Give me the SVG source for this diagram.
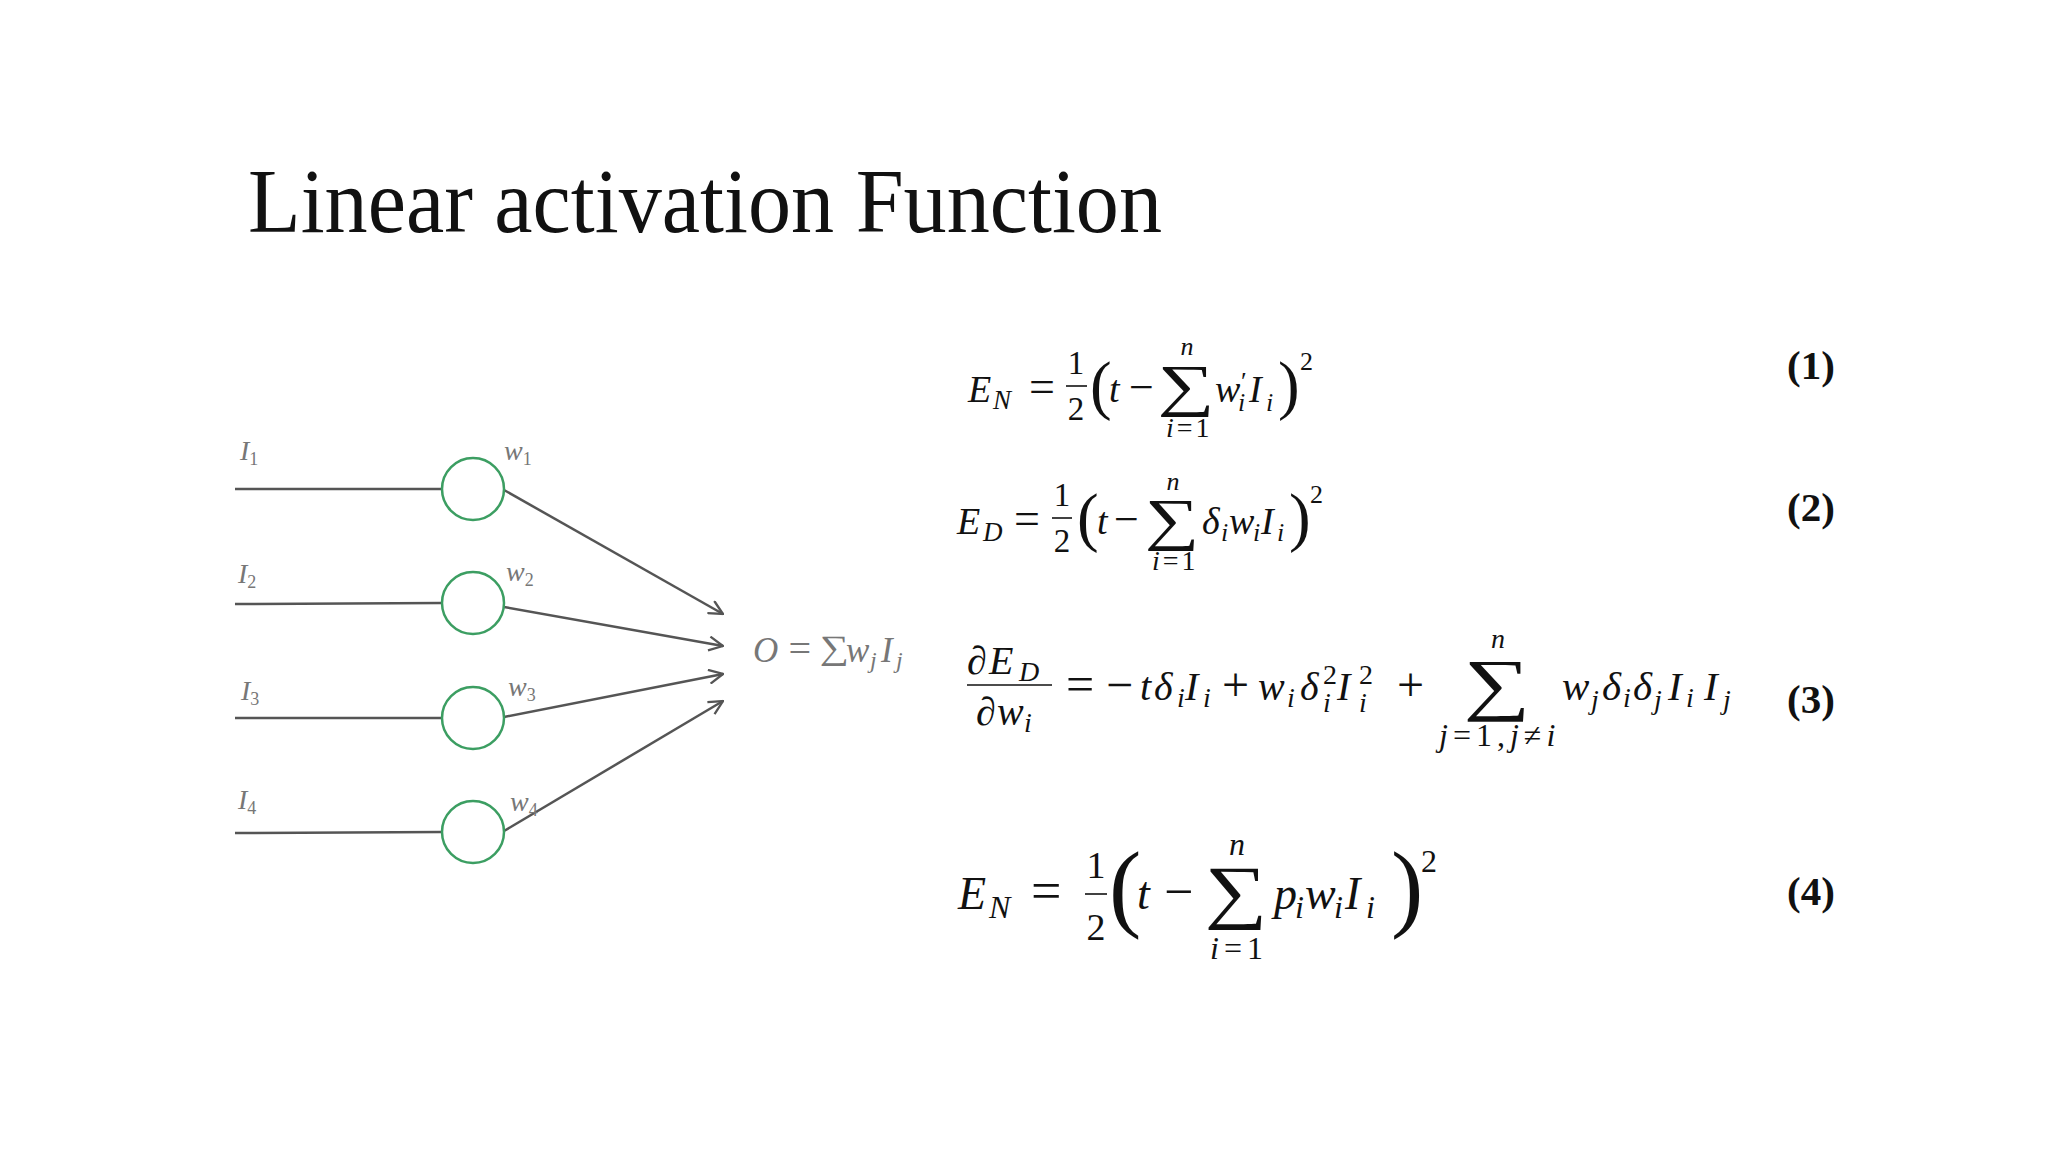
<svg xmlns="http://www.w3.org/2000/svg" width="2048" height="1152" viewBox="0 0 2048 1152">
<defs>
<style>
.t{font-family:"Liberation Serif","DejaVu Serif",serif;fill:#111}
.it{font-style:italic}
.lbl{font-family:"Liberation Serif","DejaVu Serif",serif;font-style:italic;fill:#777}
.num{font-family:"Liberation Serif","DejaVu Serif",serif;font-weight:bold;fill:#111;font-size:41px}
.wire{stroke:#555;stroke-width:2.5;fill:none}
.node{fill:#fff;stroke:#3c9e62;stroke-width:2.5}
.bar{stroke:#111;stroke-width:1.6}
</style>
<marker id="arr" viewBox="0 0 16 16" refX="15" refY="8" markerWidth="16" markerHeight="16" markerUnits="userSpaceOnUse" orient="auto">
<path d="M1,1 L15,8 L1,15" fill="none" stroke="#555" stroke-width="2.3"/>
</marker>
</defs>
<rect width="2048" height="1152" fill="#fff"/>

<g id="title">
<text class="t" x="248" y="232" font-size="92" textLength="914" lengthAdjust="spacingAndGlyphs">Linear activation Function</text>
</g>

<g id="connectors">
<line class="wire" x1="235" y1="489" x2="442" y2="489"/>
<line class="wire" x1="235" y1="604" x2="442" y2="603"/>
<line class="wire" x1="235" y1="718" x2="442" y2="718"/>
<line class="wire" x1="235" y1="833" x2="442" y2="832"/>
<line class="wire" x1="504" y1="490" x2="723" y2="614" marker-end="url(#arr)"/>
<line class="wire" x1="504" y1="607" x2="723" y2="646" marker-end="url(#arr)"/>
<line class="wire" x1="504" y1="717" x2="723" y2="674" marker-end="url(#arr)"/>
<line class="wire" x1="504" y1="831" x2="723" y2="701" marker-end="url(#arr)"/>
</g>

<g id="node1"><circle class="node" cx="473" cy="489" r="31"/></g>
<g id="node2"><circle class="node" cx="473" cy="603" r="31"/></g>
<g id="node3"><circle class="node" cx="473" cy="718" r="31"/></g>
<g id="node4"><circle class="node" cx="473" cy="832" r="31"/></g>

<g id="labels">
<text class="lbl" x="240" y="460" font-size="28">I<tspan font-size="18" font-style="normal" dy="5">1</tspan></text>
<text class="lbl" x="504" y="460" font-size="28">w<tspan font-size="18" font-style="normal" dy="5">1</tspan></text>
<text class="lbl" x="238" y="583" font-size="28">I<tspan font-size="18" font-style="normal" dy="5">2</tspan></text>
<text class="lbl" x="506" y="581" font-size="28">w<tspan font-size="18" font-style="normal" dy="5">2</tspan></text>
<text class="lbl" x="241" y="700" font-size="28">I<tspan font-size="18" font-style="normal" dy="5">3</tspan></text>
<text class="lbl" x="508" y="696" font-size="28">w<tspan font-size="18" font-style="normal" dy="5">3</tspan></text>
<text class="lbl" x="238" y="809" font-size="28">I<tspan font-size="18" font-style="normal" dy="5">4</tspan></text>
<text class="lbl" x="510" y="811" font-size="28">w<tspan font-size="18" font-style="normal" dy="5">4</tspan></text>
</g>

<g id="output">
<text class="lbl" x="753" y="662" font-size="35">O</text>
<text class="lbl" x="786" y="662" font-size="40" font-style="normal">=</text>
<text class="lbl" transform="translate(834,659) scale(1.2,1)" font-size="34" font-style="normal" text-anchor="middle">∑</text>
<text class="lbl" x="846" y="662" font-size="35">w</text>
<text class="lbl" x="870" y="668" font-size="24">j</text>
<text class="lbl" x="881" y="662" font-size="35">I</text>
<text class="lbl" x="896" y="668" font-size="24">j</text>
</g>

<g id="eq1">
<text class="t it" x="968" y="402" font-size="38">E</text>
<text class="t it" x="993" y="409" font-size="27">N</text>
<text class="t" x="1029" y="402" font-size="46">=</text>
<text class="t" x="1076" y="374" font-size="33" text-anchor="middle">1</text>
<line class="bar" x1="1066" y1="386" x2="1087" y2="386"/>
<text class="t" x="1076" y="420" font-size="33" text-anchor="middle">2</text>
<text class="t" x="1090" y="407" font-size="65">(</text>
<text class="t it" x="1109" y="402" font-size="38">t</text>
<text class="t" x="1129" y="402" font-size="44">−</text>
<text class="t" transform="translate(1186,405) scale(1.38,1)" font-size="58" text-anchor="middle">∑</text>
<text class="t it" x="1187" y="355" font-size="26" text-anchor="middle">n</text>
<text class="t" x="1166" y="437" font-size="28" letter-spacing="3"><tspan font-style="italic">i</tspan>=1</text>
<text class="t it" x="1215" y="402" font-size="38">w</text>
<text class="t" x="1241" y="390" font-size="26">′</text>
<text class="t it" x="1238" y="411" font-size="26">i</text>
<text class="t it" x="1249" y="402" font-size="38">I</text>
<text class="t it" x="1266" y="411" font-size="26">i</text>
<text class="t" x="1278" y="407" font-size="65">)</text>
<text class="t" x="1300" y="370" font-size="26">2</text>
</g>

<g id="eq2">
<text class="t it" x="957" y="534" font-size="38">E</text>
<text class="t it" x="983" y="541" font-size="27">D</text>
<text class="t" x="1014" y="534" font-size="46">=</text>
<text class="t" x="1062" y="506" font-size="33" text-anchor="middle">1</text>
<line class="bar" x1="1052" y1="518" x2="1072" y2="518"/>
<text class="t" x="1062" y="552" font-size="33" text-anchor="middle">2</text>
<text class="t" x="1077" y="539" font-size="65">(</text>
<text class="t it" x="1097" y="534" font-size="38">t</text>
<text class="t" x="1114" y="534" font-size="44">−</text>
<text class="t" transform="translate(1172,539) scale(1.32,1)" font-size="58" text-anchor="middle">∑</text>
<text class="t it" x="1173" y="490" font-size="26" text-anchor="middle">n</text>
<text class="t" x="1152" y="570" font-size="28" letter-spacing="3"><tspan font-style="italic">i</tspan>=1</text>
<text class="t it" x="1202" y="534" font-size="38">δ</text>
<text class="t it" x="1221" y="541" font-size="26">i</text>
<text class="t it" x="1229" y="534" font-size="38">w</text>
<text class="t it" x="1253" y="541" font-size="26">i</text>
<text class="t it" x="1261" y="534" font-size="38">I</text>
<text class="t it" x="1277" y="541" font-size="26">i</text>
<text class="t" x="1289" y="539" font-size="65">)</text>
<text class="t" x="1310" y="503" font-size="26">2</text>
</g>

<g id="eq3">
<text class="t it" x="967" y="674" font-size="40">∂</text>
<text class="t it" x="989" y="674" font-size="40">E</text>
<text class="t it" x="1019" y="681" font-size="28">D</text>
<line class="bar" x1="967" y1="685" x2="1052" y2="685"/>
<text class="t it" x="976" y="725" font-size="40">∂</text>
<text class="t it" x="997" y="725" font-size="40">w</text>
<text class="t it" x="1024" y="732" font-size="28">i</text>
<text class="t" x="1066" y="701" font-size="50">=</text>
<text class="t" x="1106" y="701" font-size="48">−</text>
<text class="t it" x="1140" y="700" font-size="40">t</text>
<text class="t it" x="1154" y="700" font-size="40">δ</text>
<text class="t it" x="1177" y="707" font-size="28">i</text>
<text class="t it" x="1185" y="700" font-size="40">I</text>
<text class="t it" x="1203" y="707" font-size="28">i</text>
<text class="t" x="1222" y="701" font-size="48">+</text>
<text class="t it" x="1258" y="700" font-size="40">w</text>
<text class="t it" x="1287" y="707" font-size="28">i</text>
<text class="t it" x="1300" y="700" font-size="40">δ</text>
<text class="t" x="1323" y="684" font-size="28">2</text>
<text class="t it" x="1323" y="712" font-size="28">i</text>
<text class="t it" x="1337" y="700" font-size="40">I</text>
<text class="t" x="1359" y="684" font-size="28">2</text>
<text class="t it" x="1359" y="712" font-size="28">i</text>
<text class="t" x="1397" y="701" font-size="48">+</text>
<text class="t" transform="translate(1497,707) scale(1.36,1)" font-size="69" text-anchor="middle">∑</text>
<text class="t it" x="1498" y="648" font-size="28" text-anchor="middle">n</text>
<text class="t" x="1439" y="746" font-size="32" letter-spacing="5"><tspan font-style="italic">j</tspan>=1,<tspan font-style="italic">j</tspan>≠<tspan font-style="italic">i</tspan></text>
<text class="t it" x="1562" y="700" font-size="41">w</text>
<text class="t it" x="1591" y="709" font-size="28">j</text>
<text class="t it" x="1602" y="700" font-size="41">δ</text>
<text class="t it" x="1623" y="707" font-size="28">i</text>
<text class="t it" x="1633" y="700" font-size="41">δ</text>
<text class="t it" x="1654" y="709" font-size="28">j</text>
<text class="t it" x="1668" y="700" font-size="41">I</text>
<text class="t it" x="1686" y="707" font-size="28">i</text>
<text class="t it" x="1704" y="700" font-size="41">I</text>
<text class="t it" x="1723" y="709" font-size="28">j</text>
</g>

<g id="eq4">
<text class="t it" x="958" y="909" font-size="46">E</text>
<text class="t it" x="989" y="918" font-size="32">N</text>
<text class="t" x="1031" y="909" font-size="54">=</text>
<text class="t" x="1096" y="878" font-size="38" text-anchor="middle">1</text>
<line class="bar" x1="1085" y1="894" x2="1107" y2="894"/>
<text class="t" x="1096" y="940" font-size="38" text-anchor="middle">2</text>
<text class="t" x="1109" y="919" font-size="97">(</text>
<text class="t it" x="1137" y="909" font-size="46">t</text>
<text class="t" x="1164" y="909" font-size="52">−</text>
<text class="t" transform="translate(1236,915) scale(1.24,1)" font-size="71" text-anchor="middle">∑</text>
<text class="t it" x="1237" y="855" font-size="32" text-anchor="middle">n</text>
<text class="t" x="1210" y="959" font-size="32" letter-spacing="5"><tspan font-style="italic">i</tspan>=1</text>
<text class="t it" x="1274" y="909" font-size="46">p</text>
<text class="t it" x="1295" y="918" font-size="32">i</text>
<text class="t it" x="1305" y="909" font-size="46">w</text>
<text class="t it" x="1334" y="918" font-size="32">i</text>
<text class="t it" x="1345" y="909" font-size="46">I</text>
<text class="t it" x="1366" y="918" font-size="32">i</text>
<text class="t" x="1391" y="919" font-size="97">)</text>
<text class="t" x="1421" y="872" font-size="32">2</text>
</g>

<g id="eqnums">
<text class="num" x="1787" y="379">(1)</text>
<text class="num" x="1787" y="521">(2)</text>
<text class="num" x="1787" y="713">(3)</text>
<text class="num" x="1787" y="905">(4)</text>
</g>
</svg>
